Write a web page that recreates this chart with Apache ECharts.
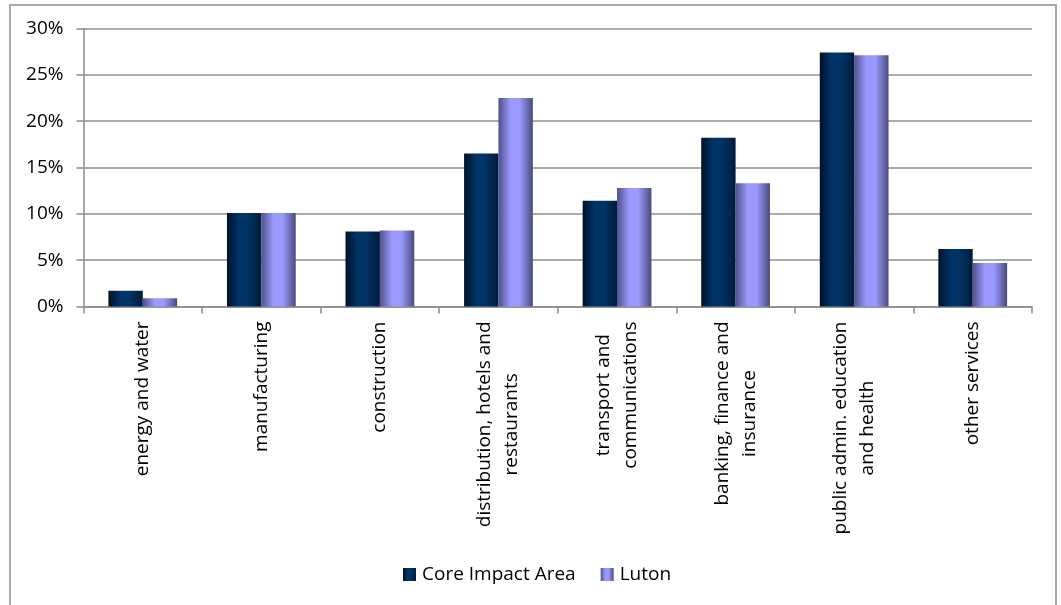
<!DOCTYPE html>
<html>
<head>
<meta charset="utf-8">
<title>Employment by sector</title>
<script src="https://cdn.jsdelivr.net/npm/echarts@6/dist/echarts.min.js"></script>
<style>
  html, body { margin: 0; padding: 0; background: #ffffff; }
  #chart { width: 1061px; height: 605px; }
</style>
</head>
<body>
<div id="chart"></div>
<script>
// Sector shares of employment (fractions)
const categories = [
  'energy and water',
  'manufacturing',
  'construction',
  'distribution, hotels and\nrestaurants',
  'transport and\ncommunications',
  'banking, finance and\ninsurance',
  'public admin. education\nand health',
  'other services'
];
const coreImpactArea = [0.017, 0.101, 0.081, 0.165, 0.114, 0.182, 0.274, 0.062];
const luton = [0.009, 0.101, 0.082, 0.225, 0.128, 0.133, 0.271, 0.047];
const seriesNames = ['Core Impact Area', 'Luton'];

const FONT = '"Open Sans", "Noto Sans", sans-serif';
const FONT_SIZE = 19;

function barGradient(edgeL, mid, edgeR) {
  return new echarts.graphic.LinearGradient(0, 0, 1, 0, [
    { offset: 0, color: edgeL },
    { offset: 0.35, color: mid },
    { offset: 0.62, color: mid },
    { offset: 1, color: edgeR }
  ]);
}

const chart = echarts.init(document.getElementById('chart'), null, { renderer: 'canvas' });

chart.setOption({
  animation: false,
  backgroundColor: '#ffffff',
  textStyle: { fontFamily: FONT },
  graphic: [{
    type: 'rect',
    shape: { x: 10, y: 5, width: 1046, height: 620 },
    style: { fill: 'none', stroke: '#a8a8a8', lineWidth: 2 },
    silent: true
  }],
  grid: { left: 83.5, right: 29, top: 28.5, bottom: 298.5, containLabel: false },
  legend: {
    data: seriesNames,
    left: 398,
    top: 560,
    icon: 'rect',
    itemWidth: 13,
    itemHeight: 13,
    itemGap: 25,
    textStyle: { fontFamily: FONT, fontSize: FONT_SIZE, color: '#000000', padding: [0, 0, 0, 1] }
  },
  xAxis: {
    type: 'category',
    data: categories,
    axisLine: { show: true, lineStyle: { color: '#8c8c8c', width: 1.5 } },
    axisTick: { show: true, length: 7, alignWithLabel: false, lineStyle: { color: '#8c8c8c', width: 1.5 } },
    axisLabel: {
      interval: 0,
      rotate: 90,
      margin: 15,
      color: '#000000',
      formatter: function (value) {
        return value.split('\n').map(function (line) { return '{c|' + line + '}'; }).join('\n');
      },
      rich: {
        c: { align: 'center', fontFamily: FONT, fontSize: FONT_SIZE, lineHeight: 27, color: '#000000' }
      }
    },
    splitLine: { show: false }
  },
  yAxis: {
    type: 'value',
    min: 0,
    max: 0.3,
    interval: 0.05,
    axisLine: { show: true, lineStyle: { color: '#8c8c8c', width: 1.5 } },
    axisTick: { show: true, length: 7, lineStyle: { color: '#8c8c8c', width: 1.5 } },
    axisLabel: {
      margin: 20,
      fontFamily: FONT,
      fontSize: FONT_SIZE,
      color: '#000000',
      formatter: function (v) { return Math.round(v * 100) + '%'; }
    },
    splitLine: { show: true, lineStyle: { color: '#8f8f8f', width: 1.5 } }
  },
  series: [
    {
      name: seriesNames[0],
      type: 'bar',
      data: coreImpactArea,
      barGap: '0%',
      barCategoryGap: '42%',
      itemStyle: { color: barGradient('#001228', '#003366', '#001b38') }
    },
    {
      name: seriesNames[1],
      type: 'bar',
      data: luton,
      itemStyle: { color: barGradient('#50508a', '#9999ff', '#4a4a7c') }
    }
  ]
});
</script>
</body>
</html>
